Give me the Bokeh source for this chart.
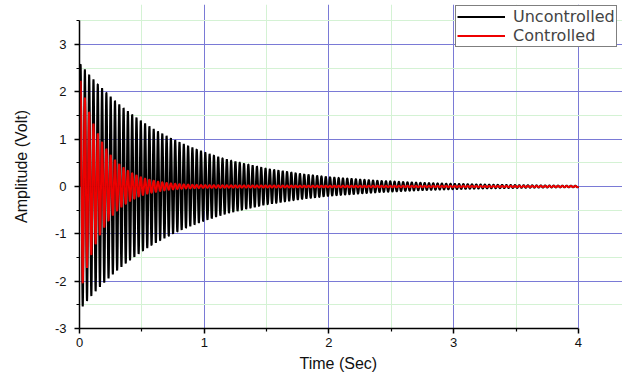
import numpy as np
from bokeh.plotting import figure
from bokeh.models import Range1d, FixedTicker, Legend, LegendItem, Title
from bokeh.embed import file_html
from bokeh.resources import INLINE

# Envelope of the oscillation (peak amplitude in volts)
env_time = [0.0, 0.1, 0.2, 0.3, 0.4, 0.5, 0.6, 0.7, 0.8, 0.9,
            1.0, 1.1, 1.2, 1.3, 1.4, 1.5, 1.6, 1.7, 1.8, 1.9,
            2.0, 2.1, 2.2, 2.3, 2.4, 2.5, 2.6, 2.7, 2.8, 2.9,
            3.0, 3.1, 3.2, 3.3, 3.4, 3.5, 3.6, 3.7, 3.8, 3.9, 4.0]
uncontrolled_env = [2.62, 2.30, 2.03, 1.78, 1.57, 1.38, 1.21, 1.07, 0.94, 0.83,
                    0.73, 0.64, 0.56, 0.50, 0.44, 0.38, 0.34, 0.30, 0.26, 0.23,
                    0.20, 0.18, 0.16, 0.14, 0.12, 0.11, 0.095, 0.083, 0.073, 0.064,
                    0.056, 0.050, 0.044, 0.038, 0.034, 0.030, 0.026, 0.023, 0.020, 0.018, 0.016]
controlled_env = [2.33, 1.41, 0.86, 0.52, 0.32, 0.19, 0.12, 0.075, 0.05, 0.035,
                  0.028, 0.026, 0.024, 0.023, 0.022, 0.021, 0.020, 0.019, 0.018, 0.018,
                  0.017, 0.017, 0.016, 0.016, 0.016, 0.015, 0.015, 0.015, 0.014, 0.014,
                  0.014, 0.014, 0.013, 0.013, 0.013, 0.013, 0.012, 0.012, 0.012, 0.012, 0.012]
osc_freq_hz = 29.0          # oscillation frequency counted from the stripes
sample_step = 0.001

x_ticks = [0, 1, 2, 3, 4]
x_minor = [0.5, 1.5, 2.5, 3.5]
y_ticks = [-3, -2, -1, 0, 1, 2, 3]
y_minor = [-2.5, -1.5, -0.5, 0.5, 1.5, 2.5, 3.5]
x_axis_span = (0, 4)
y_axis_span = (-3, 3.5)

t = np.arange(0.0, 4.0 + sample_step / 2, sample_step)
carrier = np.sin(2 * np.pi * osc_freq_hz * t)
unc = np.exp(np.interp(t, env_time, np.log(uncontrolled_env))) * carrier
con = np.exp(np.interp(t, env_time, np.log(controlled_env))) * carrier

# frame runs to the right and (almost) top edges so the legend, which sits partly
# outside the axes box in the original, is not clipped; axes/grids are bounded.
p = figure(width=622, height=380, output_backend="svg", toolbar_location=None,
           x_range=Range1d(0, 4.353), y_range=Range1d(-3, 3.845),
           min_border_left=79, min_border_right=0, min_border_top=4, min_border_bottom=52)
p.outline_line_color = None
p.background_fill_color = "white"
p.border_fill_color = "white"

r1 = p.line(t, unc, line_color="black", line_width=2.0)
r2 = p.line(t, con, line_color="#ee0000", line_width=2.0)

p.xaxis.ticker = FixedTicker(ticks=x_ticks, minor_ticks=x_minor)
p.yaxis.ticker = FixedTicker(ticks=y_ticks, minor_ticks=y_minor)
p.xaxis.bounds = x_axis_span
p.yaxis.bounds = y_axis_span
p.xgrid.bounds = y_axis_span
p.ygrid.bounds = x_axis_span
p.yaxis.major_label_overrides = {v: str(v) for v in y_ticks}

for g in (p.xgrid, p.ygrid):
    g.grid_line_color = "#7a7ad6"
    g.grid_line_width = 1
    g.minor_grid_line_color = "#d4f2d4"
    g.minor_grid_line_width = 1

for ax in (p.xaxis, p.yaxis):
    ax.axis_line_color = "black"
    ax.axis_line_width = 1.5
    ax.major_tick_line_color = "black"
    ax.major_tick_line_width = 1.5
    ax.minor_tick_line_color = "black"
    ax.minor_tick_line_width = 1.2
    ax.major_tick_out = 5
    ax.major_tick_in = 0
    ax.minor_tick_out = 3
    ax.minor_tick_in = 0
    ax.major_label_text_font = "Liberation Sans"
    ax.major_label_text_font_size = "13px"
    ax.major_label_text_color = "#111111"

p.xaxis.major_label_standoff = 4
p.yaxis.major_label_standoff = 8

p.yaxis.axis_label = "Amplitude (Volt)"
p.yaxis.axis_label_standoff = 22
p.yaxis.axis_label_text_font = "Liberation Sans"
p.yaxis.axis_label_text_font_size = "16px"
p.yaxis.axis_label_text_font_style = "normal"
p.yaxis.axis_label_text_color = "#111111"

xlabel = Title(text="Time (Sec)", align="left", offset=220, standoff=10,
               vertical_align="top",
               text_font="Liberation Sans", text_font_size="16px",
               text_font_style="normal", text_color="#111111")
p.add_layout(xlabel, "below")

legend = Legend(items=[LegendItem(label="Uncontrolled", renderers=[r1]),
                       LegendItem(label="Controlled", renderers=[r2])],
                location=(376, 281), border_line_color="black", border_line_width=1,
                background_fill_color="white", background_fill_alpha=1.0,
                label_text_font="DejaVu Sans", label_text_font_size="16px",
                padding=1, spacing=-2, glyph_width=48, glyph_height=13,
                label_height=13, label_standoff=8, margin=0)
p.add_layout(legend)

open("out.html", "w").write(file_html(p, INLINE))
